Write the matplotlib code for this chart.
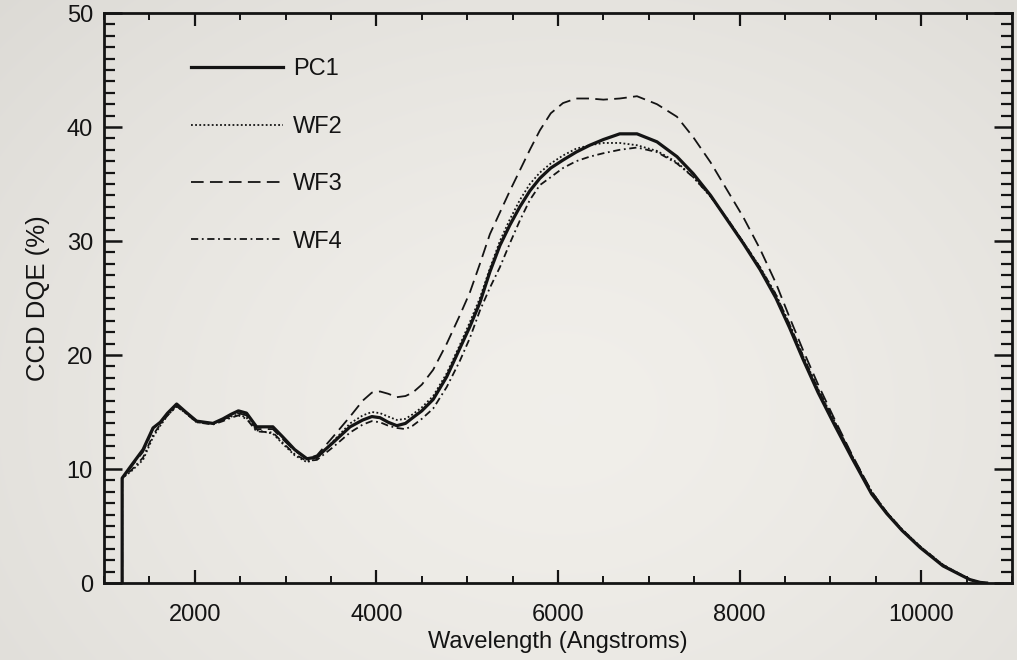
import numpy as np
import matplotlib
matplotlib.use("Agg")
import matplotlib.pyplot as plt
from matplotlib.ticker import MultipleLocator

# ---------------- data ----------------
wavelength = [1200, 1200, 1300, 1430, 1540, 1620, 1700, 1800, 1900, 2020, 2200, 2310,
              2400, 2480, 2570, 2680, 2860, 2970, 3100, 3235, 3345, 3520, 3710, 3850,
              3950, 4040, 4130, 4225, 4320, 4400, 4500, 4625, 4775, 4920, 5030, 5140,
              5250, 5360, 5470, 5580, 5690, 5800, 5920, 6055, 6200, 6350, 6500, 6680,
              6870, 7090, 7310, 7490, 7680, 7860, 8040, 8225, 8400, 8550, 8700, 8865,
              9050, 9235, 9455, 9620, 9790, 9990, 10240, 10535, 10650, 10720]

pc1 = [0, 9.2, 10.3, 11.7, 13.6, 14.1, 14.9, 15.7, 15.0, 14.2, 14.0, 14.4,
       14.8, 15.1, 14.9, 13.7, 13.7, 12.8, 11.7, 10.9, 11.05, 12.3, 13.7, 14.3,
       14.6, 14.5, 14.1, 13.8, 14.0, 14.5, 15.1, 16.1, 18.1, 20.6, 22.5, 24.6,
       27.3, 29.6, 31.4, 33.0, 34.4, 35.5, 36.4, 37.1, 37.8, 38.4, 38.9, 39.4,
       39.4, 38.7, 37.4, 35.9, 34.0, 31.9, 29.8, 27.5, 25.0, 22.4, 19.6, 16.7,
       13.8, 11.0, 7.8, 6.1, 4.6, 3.1, 1.5, 0.3, 0.05, 0.0]

wf2 = [0, 9.2, 9.8, 10.8, 12.8, 13.8, 14.7, 15.5, 14.9, 14.1, 14.0, 14.3,
       14.6, 14.8, 14.5, 13.4, 13.1, 12.2, 11.2, 10.6, 10.9, 12.4, 14.0, 14.7,
       15.0, 14.9, 14.6, 14.3, 14.4, 14.8, 15.4, 16.4, 18.4, 20.9, 22.9, 25.0,
       27.6, 30.0, 31.9, 33.6, 35.0, 36.0, 36.8, 37.5, 38.1, 38.4, 38.6, 38.6,
       38.4, 37.9, 36.9, 35.6, 33.9, 32.0, 29.9, 27.7, 25.3, 22.7, 19.9, 17.0,
       14.1, 11.2, 8.0, 6.2, 4.7, 3.2, 1.6, 0.3, 0.05, 0.0]

wf3 = [0, 9.2, 10.2, 11.5, 13.5, 14.0, 14.8, 15.6, 15.0, 14.2, 14.0, 14.3,
       14.7, 14.9, 14.7, 13.5, 13.5, 12.6, 11.6, 10.9, 11.2, 12.8, 14.6, 16.0,
       16.7, 16.8, 16.6, 16.3, 16.4, 16.7, 17.4, 18.7, 21.0, 23.5, 25.5, 28.0,
       30.6, 32.5, 34.4, 36.2, 38.0, 39.7, 41.2, 42.1, 42.5, 42.5, 42.4, 42.5,
       42.7, 42.0, 40.9, 39.1, 36.9, 34.5, 32.1, 29.3, 26.3, 23.3, 20.4, 17.4,
       14.3, 11.3, 8.0, 6.2, 4.6, 3.1, 1.5, 0.3, 0.05, 0.0]

wf4 = [0, 9.2, 9.9, 11.0, 13.0, 13.9, 14.7, 15.5, 14.9, 14.1, 13.9, 14.2,
       14.5, 14.7, 14.4, 13.3, 13.2, 12.3, 11.3, 10.7, 10.8, 11.9, 13.2, 13.9,
       14.2, 14.1, 13.8, 13.6, 13.5, 13.8, 14.4, 15.3, 17.2, 19.5, 21.5, 23.9,
       25.9, 27.7, 29.8, 31.8, 33.6, 34.9, 35.6, 36.4, 37.0, 37.4, 37.7, 38.0,
       38.2, 37.8, 36.8, 35.6, 33.9, 32.0, 29.9, 27.7, 25.3, 22.7, 19.9, 17.0,
       14.1, 11.2, 8.0, 6.2, 4.7, 3.2, 1.6, 0.3, 0.05, 0.0]

series_labels = ["PC1", "WF2", "WF3", "WF4"]
x_ticks = [2000, 4000, 6000, 8000, 10000]
y_ticks = [0, 10, 20, 30, 40, 50]

# ---------------- figure ----------------
plt.rcParams['font.family'] = ['Liberation Sans', 'DejaVu Sans']
W, H, DPI = 1017, 660, 100
fig = plt.figure(figsize=(W / DPI, H / DPI), dpi=DPI)

# paper-like vignette background
bg = fig.add_axes([0, 0, 1, 1], zorder=-10)
yy, xx = np.mgrid[0:H, 0:W]
r = np.sqrt(((xx - W * 0.55) / (W * 0.62)) ** 2 + ((yy - H * 0.62) / (H * 0.75)) ** 2)
r = np.clip(r, 0, 1.4)
light = np.array([0.945, 0.937, 0.918])
dark = np.array([0.845, 0.837, 0.818])
t = (r / 1.4) ** 1.5
img = light[None, None, :] * (1 - t[..., None]) + dark[None, None, :] * t[..., None]
bg.imshow(img, aspect='auto', extent=[0, 1, 0, 1])
bg.axis('off')

ax = fig.add_axes([104 / W, 1 - 583 / H, (1012 - 104) / W, (583 - 13) / H])
ax.patch.set_alpha(0)

ink = '#141414'
styles = [
    dict(linestyle='-', linewidth=2.3),
    dict(linestyle=(0, (1, 1.3)), linewidth=1.3),
    dict(linestyle=(0, (7, 3.5)), linewidth=1.3),
    dict(linestyle=(0, (4, 2, 1, 2)), linewidth=1.3),
]
for ys, lab, st in zip([pc1, wf2, wf3, wf4], series_labels, styles):
    ax.plot(wavelength, ys, color=ink, label=lab, solid_joinstyle='round', **st)

ax.set_xlim(1000, 11000)
ax.set_ylim(0, 50)
ax.set_xticks(x_ticks)
ax.set_yticks(y_ticks)
ax.xaxis.set_minor_locator(MultipleLocator(500))
ax.yaxis.set_minor_locator(MultipleLocator(1))

for s in ax.spines.values():
    s.set_linewidth(2.0)
    s.set_color(ink)

ax.tick_params(axis='x', which='major', direction='in', length=9.5, width=1.6,
               top=True, bottom=True, labelsize=17, pad=15, colors=ink)
ax.tick_params(axis='x', which='minor', direction='in', length=5, width=1.4,
               top=True, bottom=True, colors=ink)
ax.tick_params(axis='y', which='major', direction='in', length=13, width=1.8,
               left=True, right=True, labelsize=17, pad=8, colors=ink)
ax.tick_params(axis='y', which='minor', direction='in', length=8, width=1.6,
               left=True, right=True, colors=ink)

ax.set_xlabel("Wavelength (Angstroms)", fontsize=17, color=ink, labelpad=4)
ax.set_ylabel("CCD DQE (%)", fontsize=18.5, color=ink, labelpad=12)

leg = ax.legend(loc='upper left', bbox_to_anchor=(0.085, 0.937), frameon=False,
                fontsize=17, handlelength=3.9, handletextpad=0.45, labelspacing=1.5,
                borderaxespad=0)
for txt in leg.get_texts():
    txt.set_color(ink)

fig.savefig("out.png", dpi=DPI)
